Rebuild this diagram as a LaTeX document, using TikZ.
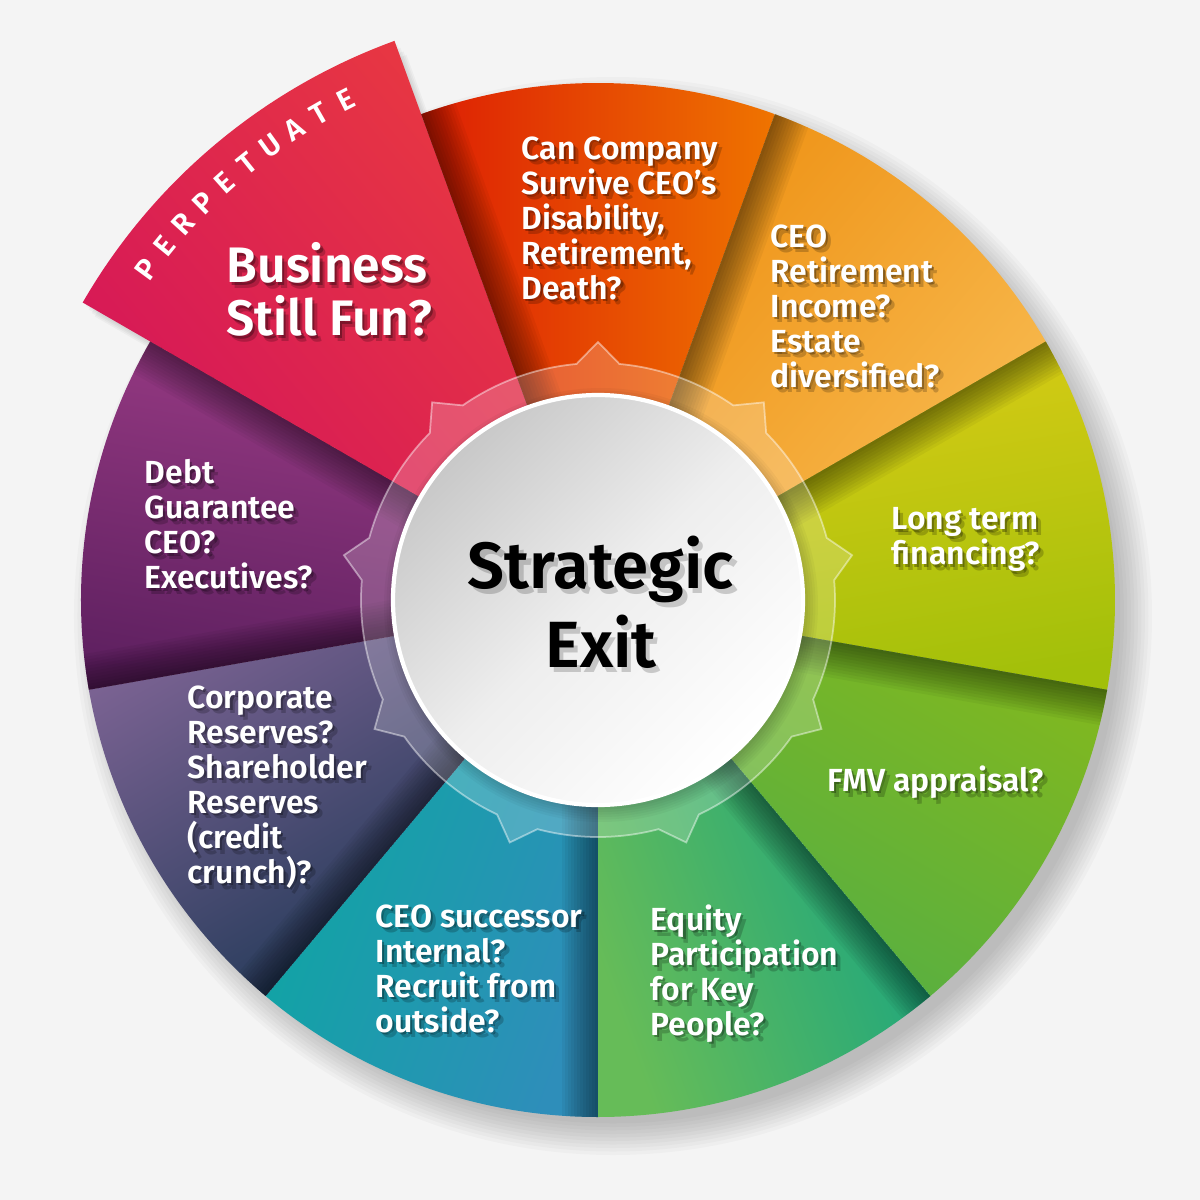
\documentclass[tikz,border=0pt]{standalone}
\usepackage{fontspec}
\newfontfamily\wheelfont{Fira Sans SemiBold}
\usepackage{tikz}
\usetikzlibrary{positioning}

\definecolor{paper}{HTML}{F4F4F4}
\definecolor{pinkA}{HTML}{D4145A}
\definecolor{pinkB}{HTML}{E93A40}
\definecolor{redA}{HTML}{DD1E04}
\definecolor{redB}{HTML}{EF7400}
\definecolor{orangeA}{HTML}{EE9012}
\definecolor{orangeB}{HTML}{F8BC52}
\definecolor{yellowA}{HTML}{DCCC16}
\definecolor{yellowB}{HTML}{A2C00A}
\definecolor{greenA}{HTML}{82B81E}
\definecolor{greenB}{HTML}{52AE46}
\definecolor{tealgA}{HTML}{0FA285}
\definecolor{tealgB}{HTML}{66BC58}
\definecolor{tealA}{HTML}{2E8EBA}
\definecolor{tealB}{HTML}{0BA8A0}
\definecolor{blueA}{HTML}{163450}
\definecolor{blueB}{HTML}{7A6292}
\definecolor{purpleA}{HTML}{5E2060}
\definecolor{purpleB}{HTML}{9C3C86}
\definecolor{hubA}{HTML}{C8C8C8}
\definecolor{hubB}{HTML}{EEEEEE}

% label with a soft dark shadow behind it
\newcommand{\shadowlabel}[4]{%
  \node[#2, text=black, text opacity=0.2, xshift=1.4pt, yshift=-1.6pt] (#1s) at (#3) {#4};
  \node[#2, text=black, text opacity=0.3, xshift=0.6pt, yshift=-0.7pt] (#1t) at (#3) {#4};
  \node[#2] (#1) at (#3) {#4};
}

\begin{document}
\begin{tikzpicture}[
  segtext/.style={font=\wheelfont\fontsize{9.1}{9.96}\selectfont, text=white,
                  align=left, anchor=north west, inner sep=0pt},
  bigtext/.style={segtext, font=\wheelfont\fontsize{14.2}{15.1}\selectfont},
  hubtext/.style={font=\wheelfont\fontsize{18.6}{22.5}\selectfont, text=black,
                  align=center, anchor=north, inner sep=0pt},
  perpletter/.style={font=\wheelfont\fontsize{8.4}{9}\selectfont, text=white, inner sep=0pt},
  gearring/.style={fill=white, fill opacity=0.2, draw=white, draw opacity=0.45, line width=0.5pt},
]
  \useasboundingbox (-5.98,-6.00) rectangle (6.02,6.00);
  \fill[paper] (-5.98,-6.00) rectangle (6.02,6.00);

  % drop shadows
  \foreach \k in {1,...,10}
    \fill[black, opacity=0.022] (0.15,-0.16) circle ({5.04+0.035*\k});
  \foreach \k in {1,...,4}
    \fill[black, opacity=0.03, shift={(0.03*\k,-0.035*\k)}]
      (0,0) -- (110:5.95) arc[start angle=110, end angle=150, radius=5.95] -- cycle;

  % segments
  \shade[top color=redA, bottom color=redB, shading angle=90]
    (0,0) -- (70:5.17) arc[start angle=70, end angle=110, radius=5.17] -- cycle;
  \shade[top color=orangeA, bottom color=orangeB, shading angle=50]
    (0,0) -- (30:5.17) arc[start angle=30, end angle=70, radius=5.17] -- cycle;
  \shade[top color=yellowA, bottom color=yellowB, shading angle=10]
    (0,0) -- (-10:5.17) arc[start angle=-10, end angle=30, radius=5.17] -- cycle;
  \shade[top color=greenA, bottom color=greenB, shading angle=-30]
    (0,0) -- (-50:5.17) arc[start angle=-50, end angle=-10, radius=5.17] -- cycle;
  \shade[top color=tealgA, bottom color=tealgB, shading angle=-70]
    (0,0) -- (-90:5.17) arc[start angle=-90, end angle=-50, radius=5.17] -- cycle;
  \shade[top color=tealA, bottom color=tealB, shading angle=-110]
    (0,0) -- (-130:5.17) arc[start angle=-130, end angle=-90, radius=5.17] -- cycle;
  \shade[top color=blueA, bottom color=blueB, shading angle=-150]
    (0,0) -- (-170:5.17) arc[start angle=-170, end angle=-130, radius=5.17] -- cycle;
  \shade[top color=purpleA, bottom color=purpleB, shading angle=170]
    (0,0) -- (150:5.17) arc[start angle=150, end angle=190, radius=5.17] -- cycle;
  \shade[top color=pinkA, bottom color=pinkB, shading angle=130]
    (0,0) -- (110:5.95) arc[start angle=110, end angle=150, radius=5.95] -- cycle;

  % shadow along the leading edge of each segment
  \foreach \e in {110,70,30,-10,-50,-90,-130,190} {
    \begin{scope}
      \clip (0,0) -- (\e:5.17) arc[start angle=\e, end angle=\e-40, radius=5.17] -- cycle;
      \foreach \w in {0.03,0.06,...,0.37}
        \fill[black, opacity=0.045, rotate=\e] (0,0) -- (5.3,0) -- (5.3,-\w) -- (0,-\w) -- cycle;
    \end{scope}
  }
  \begin{scope}
    \clip (0,0) -- (150:5.17) arc[start angle=150, end angle=190, radius=5.17] -- cycle;
    \foreach \w in {0.03,0.06,...,0.37}
      \fill[black, opacity=0.04, rotate=150] (0,0) -- (5.3,0) -- (5.3,\w) -- (0,\w) -- cycle;
  \end{scope}

  % gear ring and hub
  \path[gearring] (-10:2.37) \foreach \t in {10,50,...,330} {
      arc[start angle=\t-20, end angle=\t-5.2, radius=2.37] -- (\t:2.58)
      -- ({\t+5.2}:2.37) arc[start angle=\t+5.2, end angle=\t+20, radius=2.37] } -- cycle;
  \foreach \k in {1,...,6}
    \fill[black, opacity=0.03] (0.03,-0.05) circle ({2.02+0.025*\k});
  \shade[top color=hubA, bottom color=white, middle color=hubB, shading angle=45]
    (0,0) circle (2.06);
  \draw[white, line width=1.2pt] (0,0) circle (2.05);

  % labels
  \foreach \l [count=\i from 0] in {P,E,R,P,E,T,U,A,T,E}
    \node[perpletter, rotate={53.8-3*\i}] (perp\i) at ({143.8-3*\i}:5.60) {\l};
  \shadowlabel{fun}{bigtext}{-3.72,3.58}{Business\\Still Fun?}
  \shadowlabel{survive}{segtext}{-0.77,4.64}{Can Company\\Survive CEO’s\\Disability,\\Retirement,\\Death?}
  \shadowlabel{income}{segtext}{1.72,3.76}{CEO\\Retirement\\Income?\\Estate\\diversified?}
  \shadowlabel{financing}{segtext}{2.93,0.93}{Long term\\financing?}
  \shadowlabel{appraisal}{segtext}{2.29,-1.65}{FMV appraisal?}
  \shadowlabel{equity}{segtext}{0.52,-3.04}{Equity\\Participation\\for Key\\People?}
  \shadowlabel{successor}{segtext}{-2.23,-3.04}{CEO successor\\Internal?\\Recruit from\\outside?}
  \shadowlabel{reserves}{segtext}{-4.11,-0.85}{Corporate\\Reserves?\\Shareholder\\Reserves\\(credit\\crunch)?}
  \shadowlabel{debt}{segtext}{-4.54,1.41}{Debt\\Guarantee\\CEO?\\Executives?}
  \node[hubtext, text opacity=0.18, xshift=1.2pt, yshift=-1.4pt] (hubs) at (0.03,0.65) {Strategic\\Exit};
  \node[hubtext] (hub) at (0.03,0.65) {Strategic\\Exit};
\end{tikzpicture}
\end{document}
